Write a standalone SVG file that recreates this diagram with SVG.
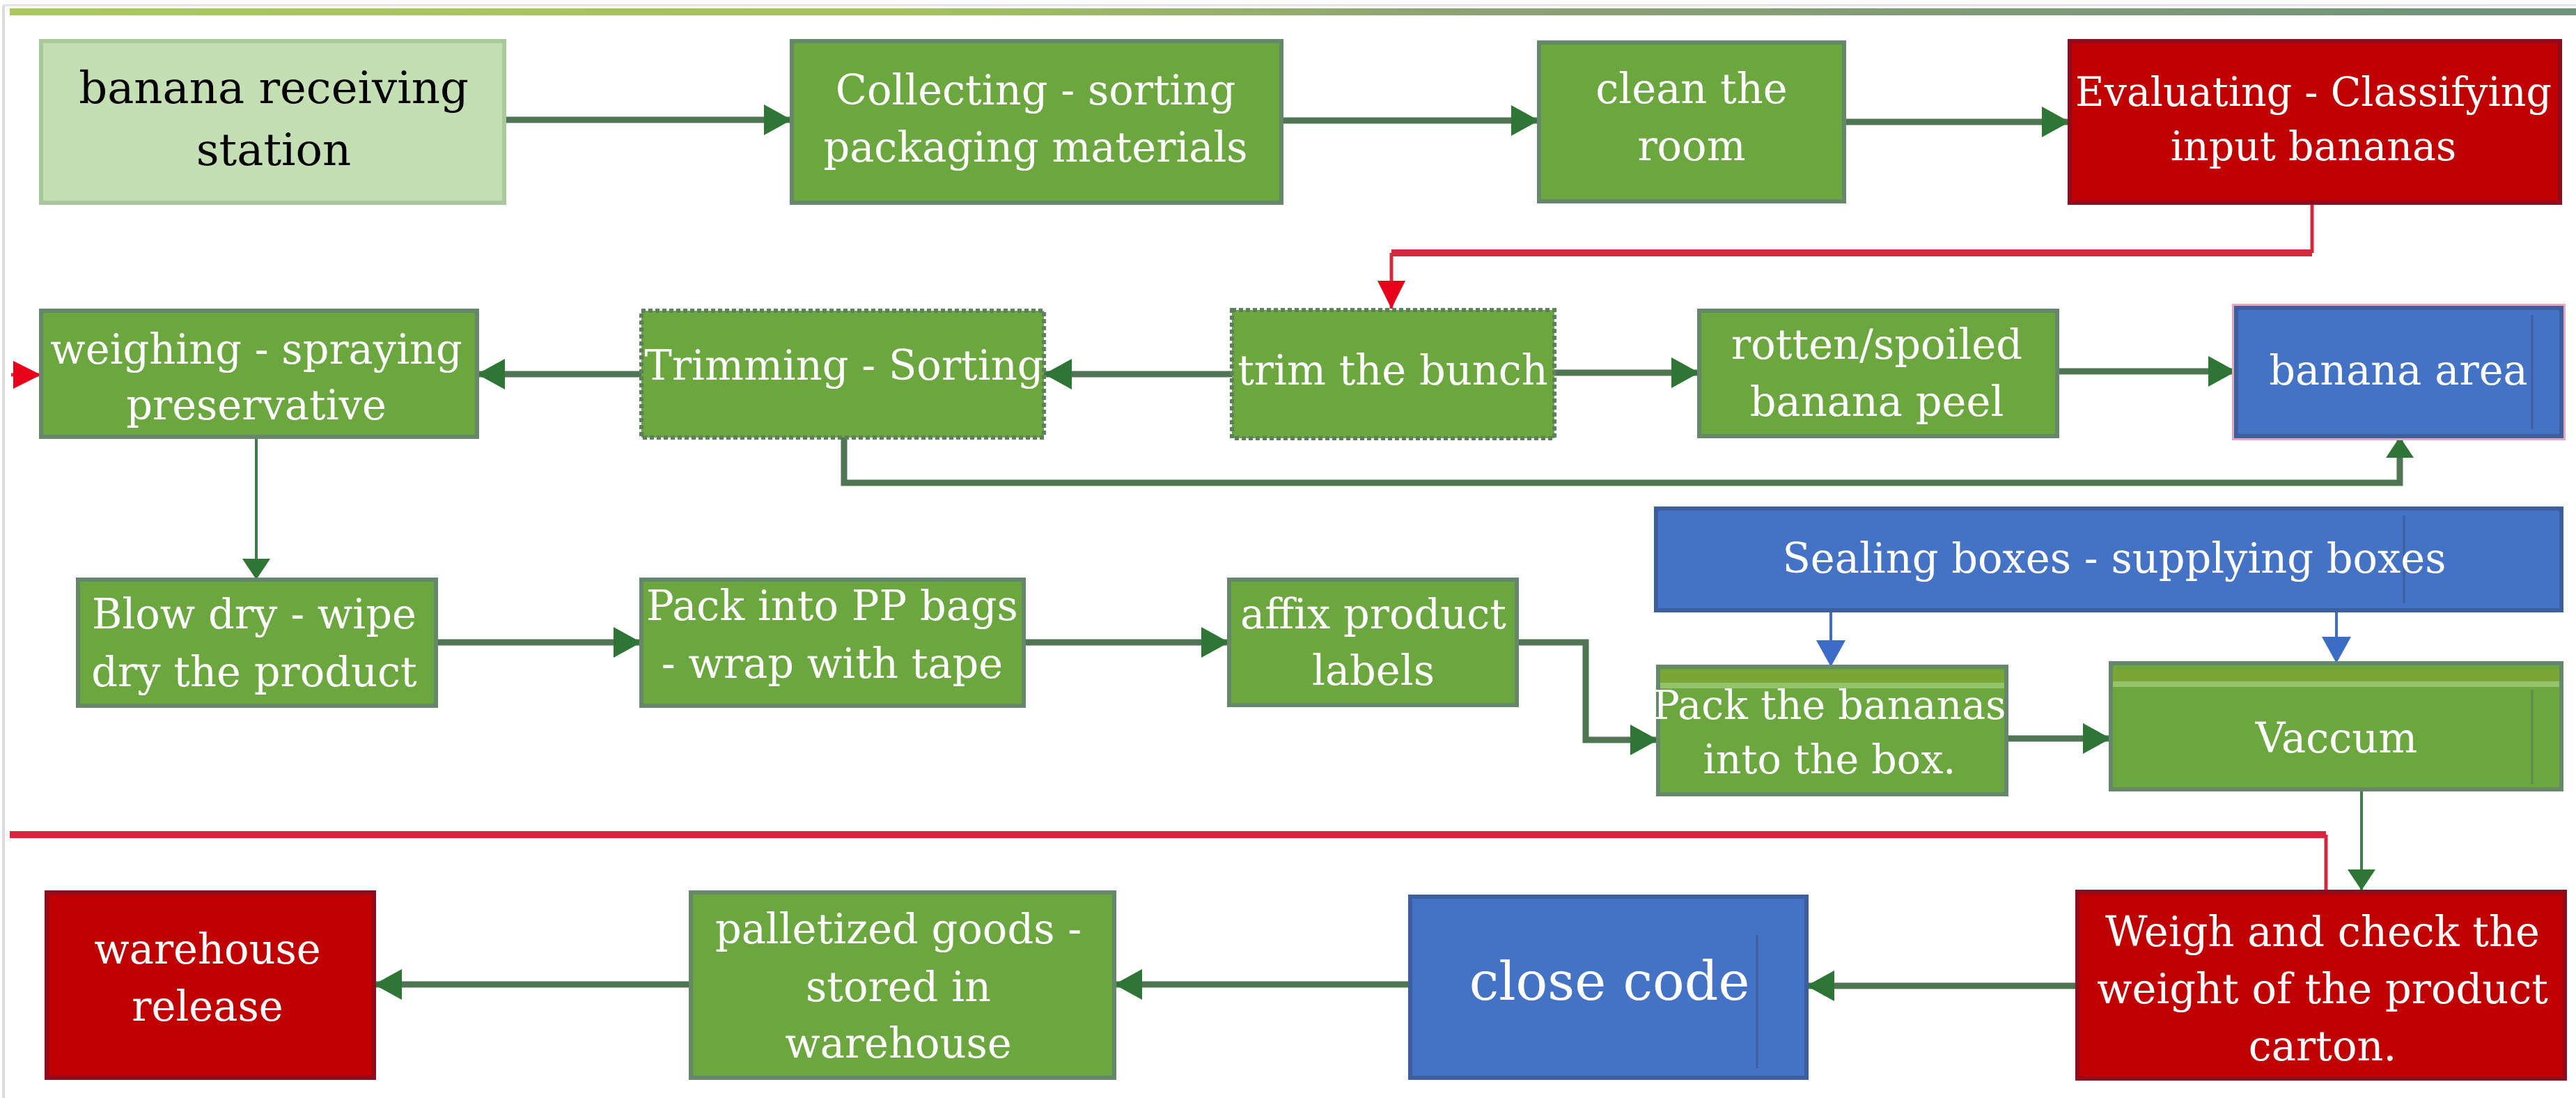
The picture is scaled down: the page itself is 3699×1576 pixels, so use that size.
<svg xmlns="http://www.w3.org/2000/svg" width="3699" height="1576" viewBox="0 0 3699 1576">
<defs>
<linearGradient id="topbar" x1="0" y1="0" x2="1" y2="0">
<stop offset="0" stop-color="#a9c862"/>
<stop offset="0.35" stop-color="#a3c25e"/>
<stop offset="0.55" stop-color="#8fa374"/>
<stop offset="1" stop-color="#6f9279"/>
</linearGradient>
<marker id="ag" viewBox="0 0 40 44" refX="40" refY="22" markerWidth="40" markerHeight="44" markerUnits="userSpaceOnUse" orient="auto">
<path d="M0,0 L40,22 L0,44 Z" fill="#2e7536"/>
</marker>
<marker id="agt" viewBox="0 0 30 40" refX="30" refY="20" markerWidth="30" markerHeight="40" markerUnits="userSpaceOnUse" orient="auto">
<path d="M0,0 L30,20 L0,40 Z" fill="#2e7536"/>
</marker>
<marker id="ab" viewBox="0 0 38 42" refX="38" refY="21" markerWidth="38" markerHeight="42" markerUnits="userSpaceOnUse" orient="auto">
<path d="M0,0 L38,21 L0,42 Z" fill="#3a6cc8"/>
</marker>
<marker id="ar" viewBox="0 0 40 40" refX="40" refY="20" markerWidth="40" markerHeight="40" markerUnits="userSpaceOnUse" orient="auto">
<path d="M0,0 L40,20 L0,40 Z" fill="#e8001a"/>
</marker>
</defs>
<style>
.g{fill:#6ba63f;stroke:#65886a;stroke-width:6}
.gd{fill:#6ba63f;stroke:#5d7f60;stroke-width:6;stroke-dasharray:6 4}
.lg{fill:#c5dfb4;stroke:#a9c89b;stroke-width:6}
.r{fill:#c00000;stroke:#8e0c1e;stroke-width:6}
.b{fill:#4472c4;stroke:#3d5f9e;stroke-width:6}
.t{font-family:"DejaVu Serif","Liberation Serif",serif;font-size:59px;fill:#ffffff;text-anchor:middle}
.k{fill:#000000;font-size:64px}
.cn{fill:none;stroke:#4f7552;stroke-width:9}
.cnt{fill:none;stroke:#3d7f48;stroke-width:4}
.bl{fill:none;stroke:#3a6cc8;stroke-width:4}
.rd{fill:none;stroke:#d12a40;stroke-width:10}
.rdt{fill:none;stroke:#d12a40;stroke-width:5}
</style>
<rect x="0" y="0" width="3699" height="1576" fill="#ffffff"/>
<rect x="4" y="6" width="3695" height="3" fill="#e4e4e4"/>
<rect x="3" y="8" width="4" height="1568" fill="#dcdcdc"/>
<rect x="14" y="12" width="3685" height="10" fill="url(#topbar)"/>

<g id="connectors">
<path class="cn" d="M724,172 H1137" marker-end="url(#ag)"/>
<path class="cn" d="M1840,173 H2210" marker-end="url(#ag)"/>
<path class="cn" d="M2650,175 H2972" marker-end="url(#ag)"/>
<path class="rdt" d="M3320,290 V363"/>
<path class="rd" d="M3320,363 H1998"/>
<path class="rdt" d="M1998,363 V443" marker-end="url(#ar)"/>
<path class="cn" d="M1769,537 H1499" marker-end="url(#ag)"/>
<path class="cn" d="M921,537 H685" marker-end="url(#ag)"/>
<path class="cn" d="M2232,535 H2440" marker-end="url(#ag)"/>
<path class="cn" d="M2954,533 H3211" marker-end="url(#ag)"/>
<path class="cn" d="M1212,628 V693 H3446 V627" marker-end="url(#agt)"/>
<path class="cnt" d="M368,627 V832" marker-end="url(#agt)"/>
<path class="cn" d="M626,922 H921" marker-end="url(#ag)"/>
<path class="cn" d="M1470,922 H1765" marker-end="url(#ag)"/>
<path class="cn" d="M2178,922 H2277 V1062 H2381" marker-end="url(#ag)"/>
<path class="cn" d="M2881,1060 H3031" marker-end="url(#ag)"/>
<path class="bl" d="M2629,877 V957" marker-end="url(#ab)"/>
<path class="bl" d="M3355,877 V952" marker-end="url(#ab)"/>
<path class="cnt" d="M3391,1133 V1278" marker-end="url(#agt)"/>
<path class="rdt" d="M3340,1278 V1198"/>
<path class="rd" d="M3340,1198 H14"/>
<path class="rdt" d="M16,538 H59" marker-end="url(#ar)"/>
<path class="cn" d="M2983,1415 H2594" marker-end="url(#ag)"/>
<path class="cn" d="M2025,1413 H1600" marker-end="url(#ag)"/>
<path class="cn" d="M992,1413 H537" marker-end="url(#ag)"/>
</g>

<g id="n1"><rect class="lg" x="59" y="59" width="665" height="232"/>
<text class="t k" x="393" y="148">banana receiving</text><text class="t k" x="393" y="237">station</text></g>
<g id="n2"><rect class="g" x="1137" y="59" width="703" height="232"/>
<text class="t" x="1487" y="150">Collecting - sorting</text><text class="t" x="1487" y="232">packaging materials</text></g>
<g id="n3"><rect class="g" x="2210" y="61" width="438" height="228"/>
<text class="t" x="2429" y="148">clean the</text><text class="t" x="2429" y="230">room</text></g>
<g id="n4"><rect class="r" x="2972" y="59" width="704" height="232"/>
<text class="t" x="3322" y="152" style="font-size:57px">Evaluating - Classifying</text><text class="t" x="3322" y="230" style="font-size:57px">input bananas</text></g>

<g id="n5"><rect class="g" x="59" y="446" width="626" height="181"/>
<text class="t" x="368" y="522">weighing - spraying</text><text class="t" x="368" y="602">preservative</text></g>
<g id="n6"><rect class="gd" x="921" y="446" width="578" height="182"/>
<text class="t" x="1212" y="545">Trimming - Sorting</text></g>
<g id="n7"><rect class="gd" x="1769" y="445" width="463" height="184"/>
<text class="t" x="2000" y="552">trim the bunch</text></g>
<g id="n8"><rect class="g" x="2440" y="446" width="514" height="180"/>
<text class="t" x="2695" y="515">rotten/spoiled</text><text class="t" x="2695" y="597">banana peel</text></g>
<g id="n9"><rect x="3207" y="438" width="475" height="192" fill="none" stroke="#e6a6c2" stroke-width="4"/>
<rect class="b" x="3211" y="442" width="467" height="184"/>
<line x1="3636" y1="452" x2="3636" y2="616" stroke="#3d5f9e" stroke-width="3"/>
<text class="t" x="3444" y="552">banana area</text></g>

<g id="n10"><rect class="b" x="2378" y="730" width="1300" height="146"/>
<line x1="3452" y1="740" x2="3452" y2="866" stroke="#3d5f9e" stroke-width="3"/>
<text class="t" x="3036" y="822">Sealing boxes - supplying boxes</text></g>
<g id="n11"><rect class="g" x="112" y="832" width="514" height="181"/>
<text class="t" x="365" y="902">Blow dry - wipe</text><text class="t" x="365" y="985">dry the product</text></g>
<g id="n12"><rect class="g" x="921" y="832" width="549" height="181"/>
<text class="t" x="1195" y="890">Pack into PP bags</text><text class="t" x="1195" y="973">- wrap with tape</text></g>
<g id="n13"><rect class="g" x="1765" y="832" width="413" height="180"/>
<text class="t" x="1972" y="902">affix product</text><text class="t" x="1972" y="983">labels</text></g>
<g id="n14"><rect class="g" x="2381" y="957" width="500" height="183"/>
<rect x="2384" y="962" width="494" height="18" fill="#7aa636"/>
<rect x="2384" y="980" width="494" height="8" fill="#93c46c"/>
<text class="t" x="2627" y="1032" style="font-size:57px">Pack the bananas</text><text class="t" x="2627" y="1110" style="font-size:57px">into the box.</text></g>
<g id="n15"><rect class="g" x="3031" y="952" width="647" height="181"/>
<rect x="3034" y="960" width="641" height="18" fill="#7aa636"/>
<rect x="3034" y="978" width="641" height="8" fill="#93c46c"/>
<line x1="3636" y1="990" x2="3636" y2="1125" stroke="#5d8a50" stroke-width="3"/>
<text class="t" x="3355" y="1080">Vaccum</text></g>

<g id="n16"><rect class="r" x="67" y="1281" width="470" height="266"/>
<text class="t" x="298" y="1383">warehouse</text><text class="t" x="298" y="1465">release</text></g>
<g id="n17"><rect class="g" x="992" y="1281" width="608" height="266"/>
<text class="t" x="1290" y="1354">palletized goods -</text><text class="t" x="1290" y="1437">stored in</text><text class="t" x="1290" y="1518">warehouse</text></g>
<g id="n18"><rect class="b" x="2025" y="1287" width="569" height="260"/>
<line x1="2523" y1="1342" x2="2523" y2="1533" stroke="#3d5fa0" stroke-width="3"/>
<text class="t" x="2311" y="1435" style="font-size:76px">close code</text></g>
<g id="n19"><rect class="r" x="2983" y="1280" width="700" height="268"/>
<text class="t" x="3335" y="1358">Weigh and check the</text><text class="t" x="3335" y="1440">weight of the product</text><text class="t" x="3335" y="1522">carton.</text></g>
</svg>
